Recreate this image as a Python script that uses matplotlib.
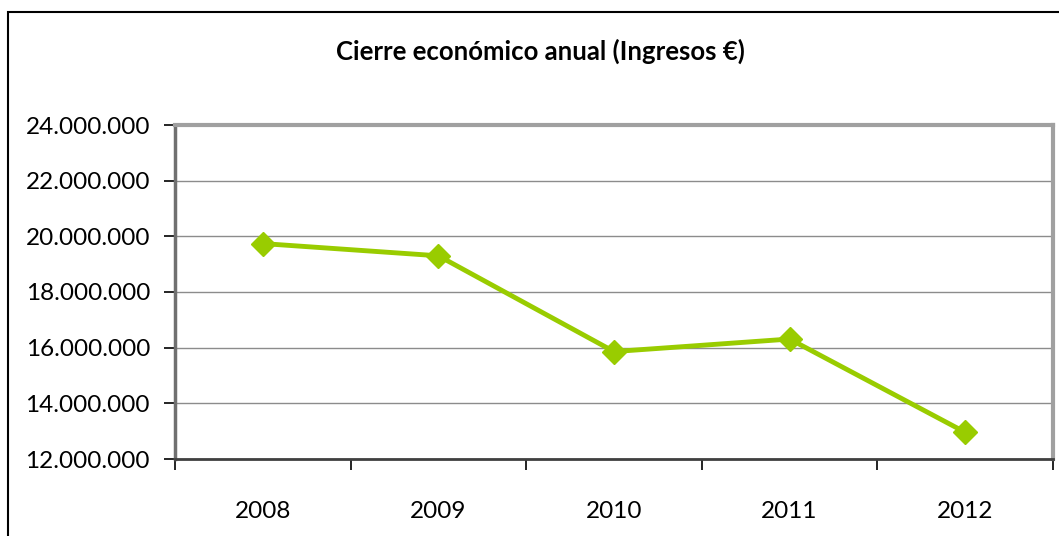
import matplotlib
matplotlib.use("Agg")
import matplotlib.pyplot as plt
from matplotlib.patches import Rectangle
from matplotlib.ticker import FuncFormatter, FixedLocator

# datos
years = ["2008", "2009", "2010", "2011", "2012"]
ingresos = [19740000, 19300000, 15860000, 16310000, 12960000]
y_ticks = [12000000, 14000000, 16000000, 18000000, 20000000, 22000000, 24000000]

plt.rcParams['font.family'] = ['Lato', 'DejaVu Sans']

W, H = 1059, 536
fig = plt.figure(figsize=(W / 100, H / 100), dpi=100)
fig.patch.set_facecolor("white")

# marco exterior del grafico (estilo Excel)
fig.patches.append(Rectangle((8 / W, -0.1), 1.2, 1 - 12 / H + 0.1, transform=fig.transFigure,
                             fill=False, edgecolor="black", linewidth=1.5))

ax = fig.add_axes([175 / W, 1 - 459 / H, (1053 - 175) / W, (459 - 125) / H])

x = list(range(len(years)))
ax.plot(x, ingresos, color="#99CC00", linewidth=3.5, marker="D", markersize=12,
        markeredgecolor="#99CC00", markerfacecolor="#99CC00", zorder=3)

ax.set_xlim(-0.5, len(years) - 0.5)
ax.set_ylim(y_ticks[0], y_ticks[-1])
ax.set_yticks(y_ticks)
ax.yaxis.set_major_formatter(FuncFormatter(lambda v, p: f"{int(v):,}".replace(",", ".")))
ax.grid(axis="y", color="#8c8c8c", linewidth=1)
ax.set_axisbelow(True)

# marcas en los limites de categoria, etiquetas en el centro
ax.xaxis.set_major_locator(FixedLocator([i - 0.5 for i in range(len(years) + 1)]))
ax.xaxis.set_minor_locator(FixedLocator(x))
ax.set_xticklabels([])
ax.set_xticklabels(years, minor=True)
ax.tick_params(axis="x", which="major", length=8, width=1.2, color="black", direction="out")
ax.tick_params(axis="x", which="minor", length=0, pad=30, labelsize=17.5)
ax.tick_params(axis="y", length=8, width=1.2, color="black", direction="out", pad=10, labelsize=17.5)

ax.spines["left"].set_color("#707070")
ax.spines["left"].set_linewidth(2.5)
ax.spines["bottom"].set_color("#404040")
ax.spines["bottom"].set_linewidth(2)
ax.spines["top"].set_color("#a0a0a0")
ax.spines["top"].set_linewidth(3)
ax.spines["right"].set_color("#a0a0a0")
ax.spines["right"].set_linewidth(3)

fig.text(540 / W, 1 - 51 / H, "Cierre económico anual (Ingresos €)", ha="center", va="center",
         fontsize=18.5, fontweight="bold")

fig.savefig("out.png", dpi=100)
